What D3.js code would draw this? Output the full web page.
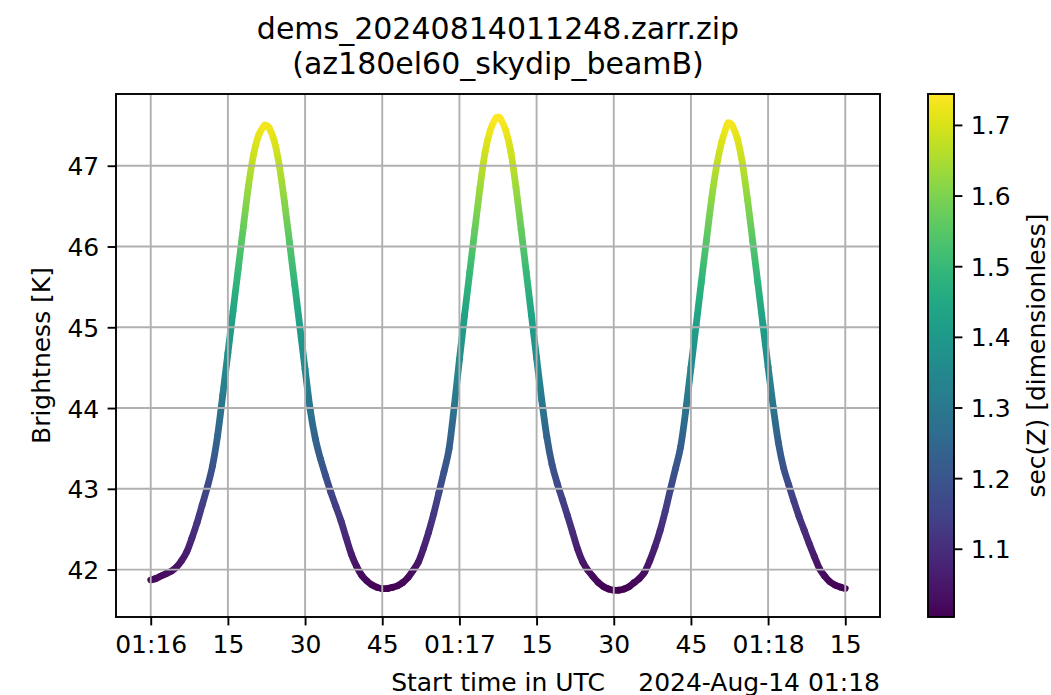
<!DOCTYPE html>
<html>
<head>
<meta charset="utf-8">
<script src="https://cdn.jsdelivr.net/npm/d3@7"></script>
<style>
  html, body { margin: 0; padding: 0; background: #ffffff; }
  svg { display: block; font-family: "DejaVu Sans", sans-serif; }
</style>
</head>
<body>
<svg id="chart" width="1051" height="695"></svg>
<script>
// Skydip scan: brightness temperature versus time, coloured by airmass sec(Z)
const titleLines = ["dems_20240814011248.zarr.zip", "(az180el60_skydip_beamB)"];

// seconds after 01:16:00 UTC
const times = [
  0, 1, 2, 3, 4, 5, 6, 7, 8, 9, 10, 11, 12, 13, 14, 15, 16, 17, 18, 19, 20, 21, 22, 22.3,
  23, 24, 25, 26, 27, 28, 29, 30, 31, 32, 33, 34, 35, 36, 37, 38, 39, 40, 41, 42, 43, 44,
  45, 46, 47, 48, 49, 50, 51, 52, 53, 54, 55, 56, 57, 58, 59, 60, 61, 62, 63, 64, 65, 66,
  67, 67.5, 68, 69, 70, 71, 72, 73, 74, 75, 76, 77, 78, 79, 80, 81, 82, 83, 84, 85, 86, 87,
  88, 89, 90, 91, 92, 93, 94, 95, 96, 97, 98, 99, 100, 101, 102, 103, 104, 105, 106, 107,
  108, 109, 110, 111, 112, 112.3, 113, 114, 115, 116, 117, 118, 119, 120, 121, 122, 123,
  124, 125, 126, 127, 128, 129, 130, 131, 132, 133, 134, 135
];

// brightness [K]
const brightness = [
  41.87, 41.89, 41.92, 41.95, 41.98, 42.03, 42.11, 42.22, 42.39, 42.58, 42.80, 43.02, 43.28, 43.66,
  44.16, 44.68, 45.20, 45.72, 46.24, 46.75, 47.14, 47.38, 47.49, 47.50,
  47.47, 47.31, 47.00, 46.55, 46.04, 45.52, 45.00, 44.48, 43.98, 43.62, 43.37, 43.16, 42.96, 42.78,
  42.60, 42.39, 42.19, 42.04, 41.93, 41.86, 41.81, 41.78,
  41.765, 41.765, 41.78, 41.80, 41.84, 41.90, 41.99, 42.09, 42.26, 42.46, 42.69, 42.95, 43.21, 43.50,
  44.02, 44.60, 45.15, 45.68, 46.21, 46.73, 47.17, 47.44,
  47.58, 47.60, 47.58, 47.44, 47.17, 46.73, 46.21, 45.68, 45.15, 44.62, 44.10, 43.64, 43.30, 43.07,
  42.87, 42.67, 42.46, 42.25, 42.09, 41.99, 41.91, 41.84,
  41.79, 41.76, 41.745, 41.745, 41.76, 41.79, 41.84, 41.89, 41.97, 42.11, 42.28, 42.48, 42.72, 42.99,
  43.25, 43.52, 43.97, 44.50, 45.02, 45.55,
  46.07, 46.58, 47.00, 47.30, 47.50, 47.53, 47.50, 47.34, 47.03, 46.58, 46.07, 45.55, 45.03, 44.51,
  44.01, 43.57, 43.26,
  43.05, 42.85, 42.66, 42.49, 42.32, 42.16, 42.01, 41.92, 41.85, 41.81, 41.785, 41.765
];

// sec(Z) [dimensionless]
const secZ = [
  1.019, 1.022, 1.025, 1.029, 1.033, 1.039, 1.049, 1.063, 1.085, 1.109, 1.137, 1.164, 1.197, 1.245,
  1.309, 1.374, 1.440, 1.506, 1.572, 1.636, 1.686, 1.716, 1.730, 1.731,
  1.727, 1.707, 1.668, 1.611, 1.546, 1.481, 1.415, 1.349, 1.283, 1.238, 1.209, 1.183, 1.156, 1.135,
  1.114, 1.086, 1.058, 1.040, 1.025, 1.018, 1.011, 1.008,
  1.006, 1.006, 1.008, 1.010, 1.015, 1.023, 1.034, 1.046, 1.068, 1.092, 1.121, 1.157, 1.192, 1.220,
  1.291, 1.364, 1.434, 1.501, 1.568, 1.634, 1.689, 1.724,
  1.741, 1.744, 1.741, 1.724, 1.689, 1.634, 1.568, 1.501, 1.434, 1.367, 1.300, 1.238, 1.197, 1.170,
  1.145, 1.121, 1.094, 1.066, 1.047, 1.034, 1.024, 1.015,
  1.009, 1.005, 1.003, 1.003, 1.005, 1.009, 1.015, 1.022, 1.032, 1.051, 1.071, 1.095, 1.125, 1.162,
  1.195, 1.223, 1.282, 1.352, 1.417, 1.484,
  1.550, 1.615, 1.668, 1.706, 1.731, 1.735, 1.731, 1.711, 1.672, 1.615, 1.550, 1.484, 1.419, 1.353,
  1.287, 1.228, 1.192,
  1.168, 1.142, 1.119, 1.097, 1.076, 1.056, 1.037, 1.025, 1.016, 1.011, 1.008, 1.006
];

const xTickValues = [0, 15, 30, 45, 60, 75, 90, 105, 120, 135];
const xTickLabels = ["01:16", "15", "30", "45", "01:17", "15", "30", "45", "01:18", "15"];
const xOffsetLabel = "2024-Aug-14 01:18";
const xLabel = "Start time in UTC";

const yTickValues = [42, 43, 44, 45, 46, 47];
const yLimits = [41.413, 47.888];
const yLabel = "Brightness [K]";

const cbarLimits = [1.0034, 1.7438];
const cbarTicks = [1.1, 1.2, 1.3, 1.4, 1.5, 1.6, 1.7];
const cbarLabel = "sec(Z) [dimensionless]";

// ---- layout ----
const plot = { left: 116, right: 880, top: 94, bottom: 617 };
const cbar = { left: 928, right: 954, top: 94, bottom: 617 };
const tickLen = 8.4, lw = 1.9, fs = 25;

const svg = d3.select("#chart");
const defs = svg.append("defs");

// x domain: data extent with 5% margins
const [t0, t1] = d3.extent(times);
const tPad = (t1 - t0) * 0.05;
const x = d3.scaleLinear().domain([t0 - tPad, t1 + tPad]).range([plot.left, plot.right]);
const y = d3.scaleLinear().domain(yLimits).range([plot.bottom, plot.top]);
const cScale = d3.scaleLinear().domain(cbarLimits).range([cbar.bottom, cbar.top]);
const colour = v => d3.interpolateViridis((v - cbarLimits[0]) / (cbarLimits[1] - cbarLimits[0]));

// ---- data curve: Catmull-Rom pieces, each with a colour gradient along it ----
const pts = times.map((t, i) => ({ x: x(t), y: y(brightness[i]), c: colour(secZ[i]) }));
const curve = svg.append("g");
for (let i = 0; i < pts.length - 1; i++) {
  const p0 = pts[Math.max(i - 1, 0)], a = pts[i], b = pts[i + 1], p3 = pts[Math.min(i + 2, pts.length - 1)];
  const c1 = [a.x + (b.x - p0.x) / 6, a.y + (b.y - p0.y) / 6];
  const c2 = [b.x - (p3.x - a.x) / 6, b.y - (p3.y - a.y) / 6];
  const g = defs.append("linearGradient")
    .attr("id", "seg" + i)
    .attr("gradientUnits", "userSpaceOnUse")
    .attr("x1", a.x).attr("y1", a.y).attr("x2", b.x).attr("y2", b.y);
  g.append("stop").attr("offset", 0).attr("stop-color", a.c);
  g.append("stop").attr("offset", 1).attr("stop-color", b.c);
  curve.append("path")
    .attr("d", `M${a.x},${a.y}C${c1[0]},${c1[1]} ${c2[0]},${c2[1]} ${b.x},${b.y}`)
    .attr("fill", "none")
    .attr("stroke", `url(#seg${i})`)
    .attr("stroke-width", 6.8)
    .attr("stroke-linecap", "round");
}

// ---- grid (drawn over the scatter, as in matplotlib's default layering) ----
const grid = svg.append("g").attr("stroke", "#b0b0b0").attr("stroke-width", lw);
xTickValues.forEach(v => grid.append("line")
  .attr("x1", x(v)).attr("x2", x(v)).attr("y1", plot.top).attr("y2", plot.bottom));
yTickValues.forEach(v => grid.append("line")
  .attr("x1", plot.left).attr("x2", plot.right).attr("y1", y(v)).attr("y2", y(v)));

// ---- axes ----
const xAxis = d3.axisBottom(x).tickValues(xTickValues)
  .tickFormat((d, i) => xTickLabels[i]).tickSize(tickLen).tickPadding(10);
const gx = svg.append("g").attr("transform", `translate(0,${plot.bottom})`).call(xAxis);

const yAxis = d3.axisLeft(y).tickValues(yTickValues)
  .tickFormat(d3.format("d")).tickSize(tickLen).tickPadding(8.4);
const gy = svg.append("g").attr("transform", `translate(${plot.left},0)`).call(yAxis);
gy.selectAll("text").attr("dy", "0.36em");

[gx, gy].forEach(g => {
  g.select(".domain").remove();
  g.selectAll("line").attr("stroke", "#000").attr("stroke-width", lw);
  g.selectAll("text").attr("fill", "#000").style("font-size", fs + "px")
    .style("font-family", "DejaVu Sans");
});

svg.append("rect")
  .attr("x", plot.left).attr("y", plot.top)
  .attr("width", plot.right - plot.left).attr("height", plot.bottom - plot.top)
  .attr("fill", "none").attr("stroke", "#000").attr("stroke-width", lw);

// axis labels
svg.append("text").attr("x", (plot.left + plot.right) / 2).attr("y", 690.5)
  .attr("text-anchor", "middle").style("font-size", fs + "px").text(xLabel);
svg.append("text").attr("x", plot.right).attr("y", 690.5)
  .attr("text-anchor", "end").style("font-size", fs + "px").text(xOffsetLabel);
svg.append("text")
  .attr("transform", `translate(50,${(plot.top + plot.bottom) / 2}) rotate(-90)`)
  .attr("text-anchor", "middle").style("font-size", fs + "px").text(yLabel);

// title
const title = svg.append("text").attr("text-anchor", "middle").style("font-size", "30px");
titleLines.forEach((line, i) => title.append("tspan")
  .attr("x", (plot.left + plot.right) / 2).attr("y", 39 + i * 35).text(line));

// ---- colour bar ----
const cg = defs.append("linearGradient").attr("id", "cbarGrad")
  .attr("x1", 0).attr("y1", 1).attr("x2", 0).attr("y2", 0);
d3.range(0, 1.0001, 0.02).forEach(f => cg.append("stop")
  .attr("offset", f).attr("stop-color", d3.interpolateViridis(f)));
svg.append("rect")
  .attr("x", cbar.left).attr("y", cbar.top)
  .attr("width", cbar.right - cbar.left).attr("height", cbar.bottom - cbar.top)
  .attr("fill", "url(#cbarGrad)").attr("stroke", "#000").attr("stroke-width", lw);

const cAxis = d3.axisRight(cScale).tickValues(cbarTicks)
  .tickFormat(d3.format(".1f")).tickSize(tickLen).tickPadding(8.4);
const gc = svg.append("g").attr("transform", `translate(${cbar.right},0)`).call(cAxis);
gc.select(".domain").remove();
gc.selectAll("line").attr("stroke", "#000").attr("stroke-width", lw);
gc.selectAll("text").attr("fill", "#000").attr("dy", "0.36em")
  .style("font-size", fs + "px").style("font-family", "DejaVu Sans");

svg.append("text")
  .attr("transform", `translate(1045,${(cbar.top + cbar.bottom) / 2}) rotate(-90)`)
  .attr("text-anchor", "middle").style("font-size", fs + "px").text(cbarLabel);
</script>
</body>
</html>
